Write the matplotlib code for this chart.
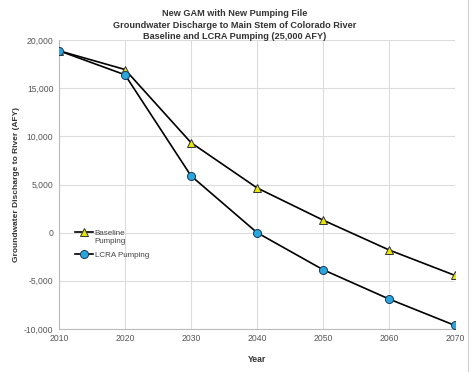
import matplotlib
matplotlib.use("Agg")
import matplotlib.pyplot as plt
from matplotlib.lines import Line2D
from matplotlib.legend_handler import HandlerLine2D

years = [2010, 2020, 2030, 2040, 2050, 2060, 2070]
baseline = [18900, 16950, 9350, 4650, 1300, -1800, -4450]
lcra = [18900, 16400, 5900, 0, -3850, -6900, -9650]
yticks = [-10000, -5000, 0, 5000, 10000, 15000, 20000]

plt.rcParams['font.family'] = ['Liberation Sans', 'DejaVu Sans']


class TopHandler(HandlerLine2D):
    def __init__(self, shift, **kw):
        super().__init__(**kw)
        self.shift = shift

    def create_artists(self, legend, orig_handle, xdescent, ydescent, width,
                       height, fontsize, trans):
        arts = super().create_artists(legend, orig_handle, xdescent, ydescent,
                                      width, height, fontsize, trans)
        for a in arts:
            a.set_ydata([y + self.shift * fontsize for y in a.get_ydata()])
        return arts


fig = plt.figure(figsize=(4.74, 3.72), dpi=100)
ax = fig.add_axes([0.1245, 0.116, 0.8355, 0.776])

l1, = ax.plot(years, baseline, color='black', lw=1.2, marker='^', markersize=5.8,
              markerfacecolor='#e6e600', markeredgecolor='#333333', markeredgewidth=0.7,
              label='Baseline\nPumping', zorder=3)
l2, = ax.plot(years, lcra, color='black', lw=1.2, marker='o', markersize=5.8,
              markerfacecolor='#2aa6dc', markeredgecolor='#1a3a5a', markeredgewidth=0.7,
              label='LCRA Pumping', zorder=3)

ax.set_xlim(2010, 2070)
ax.set_ylim(-10000, 20000)
ax.set_xticks(years)
ax.set_yticks(yticks)
ax.set_yticklabels([f"{v:,}" for v in yticks])
ax.grid(True, color='#dcdcdc', lw=0.8)
ax.set_axisbelow(True)
for s in ['top', 'right']:
    ax.spines[s].set_visible(False)
for s in ['left', 'bottom']:
    ax.spines[s].set_color('#bbbbbb')
    ax.spines[s].set_linewidth(0.8)
ax.tick_params(axis='both', length=0, labelsize=6.2, labelcolor='#555555', pad=4)

ax.set_xlabel('Year', fontsize=6.2, fontweight='bold', color='#333333', labelpad=8)
ax.set_ylabel('Groundwater Discharge to River (AFY)', fontsize=6.0, fontweight='bold',
              color='#333333', labelpad=3)

fig.text(0.495, 0.975, 'New GAM with New Pumping File\nGroundwater Discharge to Main Stem of Colorado River\nBaseline and LCRA Pumping (25,000 AFY)',
         ha='center', va='top', fontsize=6.6, fontweight='bold', color='#333333',
         linespacing=1.35)

leg = ax.legend(handles=[l1, l2], loc='upper left', bbox_to_anchor=(0.033, 0.355),
                frameon=False, fontsize=5.8, handlelength=2.2, handletextpad=0.2,
                labelspacing=0.85, borderaxespad=0,
                handler_map={l1: TopHandler(0.6)})
for t in leg.get_texts():
    t.set_color('#444444')

fig.add_artist(Line2D([0.987, 0.987], [0, 1], color='#cccccc', lw=0.8))

fig.savefig('out.png', dpi=100)
